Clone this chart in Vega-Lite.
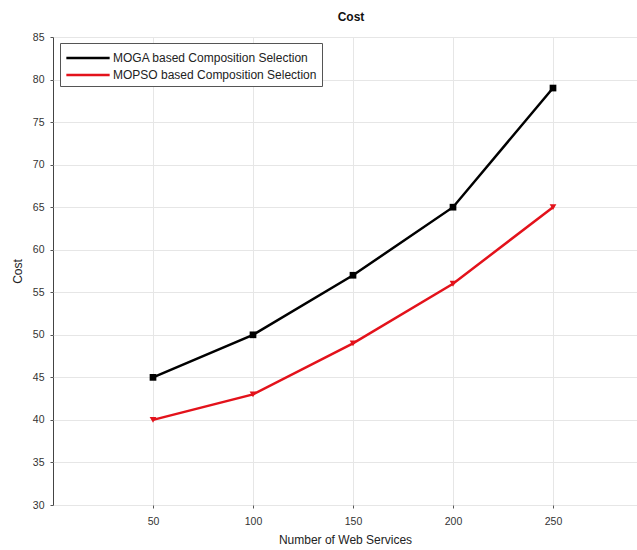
{
  "$schema": "https://vega.github.io/schema/vega-lite/v6.json",
  "autosize": "none",
  "width": 584,
  "height": 468,
  "padding": {"left": 53, "top": 37, "right": 0, "bottom": 45},
  "background": "white",
  "title": {"text": "Cost", "font": "Liberation Sans", "fontSize": 12, "fontWeight": "bold", "color": "#111", "offset": 8, "dx": 6},
  "config": {
    "view": {"stroke": "#444", "strokeWidth": 1},
    "axis": {"labelFont": "Liberation Sans", "titleFont": "Liberation Sans", "labelFontSize": 10.5, "titleFontSize": 12, "titleFontWeight": "normal", "labelColor": "#333", "titleColor": "#222", "gridColor": "#e6e6e6", "domain": false, "tickColor": "#555", "tickSize": 3}
  },
  "data": {"values": [
    {"n": 50, "cost": 45, "s": "MOGA based Composition Selection"},
    {"n": 100, "cost": 50, "s": "MOGA based Composition Selection"},
    {"n": 150, "cost": 57, "s": "MOGA based Composition Selection"},
    {"n": 200, "cost": 65, "s": "MOGA based Composition Selection"},
    {"n": 250, "cost": 79, "s": "MOGA based Composition Selection"},
    {"n": 50, "cost": 40, "s": "MOPSO based Composition Selection"},
    {"n": 100, "cost": 43, "s": "MOPSO based Composition Selection"},
    {"n": 150, "cost": 49, "s": "MOPSO based Composition Selection"},
    {"n": 200, "cost": 56, "s": "MOPSO based Composition Selection"},
    {"n": 250, "cost": 65, "s": "MOPSO based Composition Selection"}
  ]},
  "layer": [
    {
      "mark": {"type": "line", "strokeWidth": 2.5},
      "encoding": {
        "x": {"field": "n", "type": "quantitative", "scale": {"domain": [0, 292], "nice": false}, "axis": {"values": [50, 100, 150, 200, 250], "title": "Number of Web Services", "titlePadding": 8, "labelPadding": 8}},
        "y": {"field": "cost", "type": "quantitative", "scale": {"domain": [30, 85], "nice": false}, "axis": {"values": [30, 35, 40, 45, 50, 55, 60, 65, 70, 75, 80, 85], "title": "Cost", "titlePadding": 8, "labelPadding": 6}},
        "color": {"field": "s", "type": "nominal", "scale": {"range": ["#000000", "#e3121b"]},
          "legend": {"title": null, "orient": "none", "legendX": 7, "legendY": 6, "strokeColor": "#555", "fillColor": "white", "padding": 5, "labelFont": "Liberation Sans", "labelFontSize": 12, "labelLimit": 400, "labelColor": "#222", "symbolType": "M-2.5,0H2.5", "symbolStrokeWidth": 2.5, "symbolSize": 300, "symbolOffset": 13, "rowPadding": 1, "labelOffset": 15}}
      }
    },
    {
      "mark": {"type": "point", "filled": true, "size": 45, "opacity": 1},
      "encoding": {
        "x": {"field": "n", "type": "quantitative"},
        "y": {"field": "cost", "type": "quantitative"},
        "color": {"field": "s", "type": "nominal", "legend": null},
        "shape": {"field": "s", "type": "nominal", "scale": {"range": ["square", "triangle-down"]}, "legend": null}
      }
    }
  ]
}
